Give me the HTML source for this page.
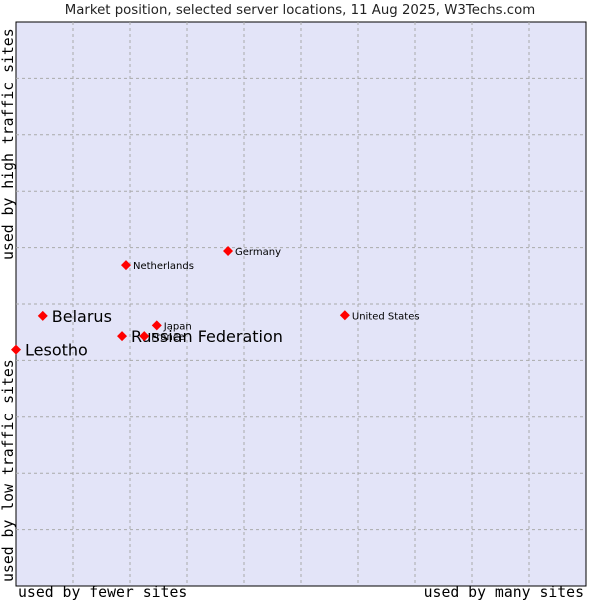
<!DOCTYPE html>
<html><head><meta charset="utf-8"><style>
body{margin:0;background:#fff;}
svg{display:block;font-family:"DejaVu Sans","Liberation Sans",sans-serif;}
</style></head><body>
<svg id="c" width="600" height="600">
<text x="300" y="14" text-anchor="middle" font-size="13.3" fill="#222">Market position, selected server locations, 11 Aug 2025, W3Techs.com</text>
<rect x="16" y="22" width="570" height="564" fill="#e3e4f8" stroke="#000" stroke-width="1"/>
<g id="grid"></g>
<g id="pts"></g>
<text x="18" y="597" font-family="DejaVu Sans Mono,Liberation Mono,monospace" font-size="14.8" fill="#000">used by fewer sites</text>
<text x="584" y="597" text-anchor="end" font-family="DejaVu Sans Mono,Liberation Mono,monospace" font-size="14.8" fill="#000">used by many sites</text>
<text transform="translate(13,582) rotate(-90)" font-family="DejaVu Sans Mono,Liberation Mono,monospace" font-size="14.8" fill="#000">used by low traffic sites</text>
<text transform="translate(13,260) rotate(-90)" font-family="DejaVu Sans Mono,Liberation Mono,monospace" font-size="14.8" fill="#000">used by high traffic sites</text>
</svg>
<script>
const names=["Lesotho","Belarus","Russian Federation","France","Japan","Netherlands","Germany","United States"];
const xVals=[0,4.7,18.6,22.5,24.7,19.3,37.2,57.7];
const yVals=[41.9,47.9,44.3,44.3,46.2,56.9,59.4,48.0];
const big=[true,true,true,false,false,false,false,false];
const L=16,T=22,W=570,H=564;
const sx=v=>L+v/100*W, sy=v=>T+H-v/100*H;
const ns="http://www.w3.org/2000/svg";
const g=document.getElementById('grid');
for(let i=1;i<10;i++){
 const a=document.createElementNS(ns,'line');
 a.setAttribute('x1',sx(i*10));a.setAttribute('x2',sx(i*10));a.setAttribute('y1',T);a.setAttribute('y2',T+H);
 a.setAttribute('stroke','#aaa');a.setAttribute('stroke-dasharray','3,3');
 
 
 g.appendChild(a);
 const b=document.createElementNS(ns,'line');
 b.setAttribute('y1',sy(i*10));b.setAttribute('y2',sy(i*10));b.setAttribute('x1',L);b.setAttribute('x2',L+W);
 b.setAttribute('stroke','#aaa');b.setAttribute('stroke-dasharray','3,3');
 
 
 g.appendChild(b);
}
const p=document.getElementById('pts');
names.forEach((n,i)=>{
 const x=sx(xVals[i]),y=sy(yVals[i]);
 const d=document.createElementNS(ns,'path');
 d.setAttribute('d',`M${x-5},${y} L${x},${y-5} L${x+5},${y} L${x},${y+5}Z`);
 d.setAttribute('fill','#f00');
 
 
 p.appendChild(d);
 const t=document.createElementNS(ns,'text');
 t.setAttribute('x',x+(big[i]?9:7));t.setAttribute('y',y+(big[i]?6:4));
 t.setAttribute('font-size',big[i]?16:10);t.setAttribute('fill','#000');
 t.textContent=n;
 
 
 p.appendChild(t);
});
</script>
</body></html>
